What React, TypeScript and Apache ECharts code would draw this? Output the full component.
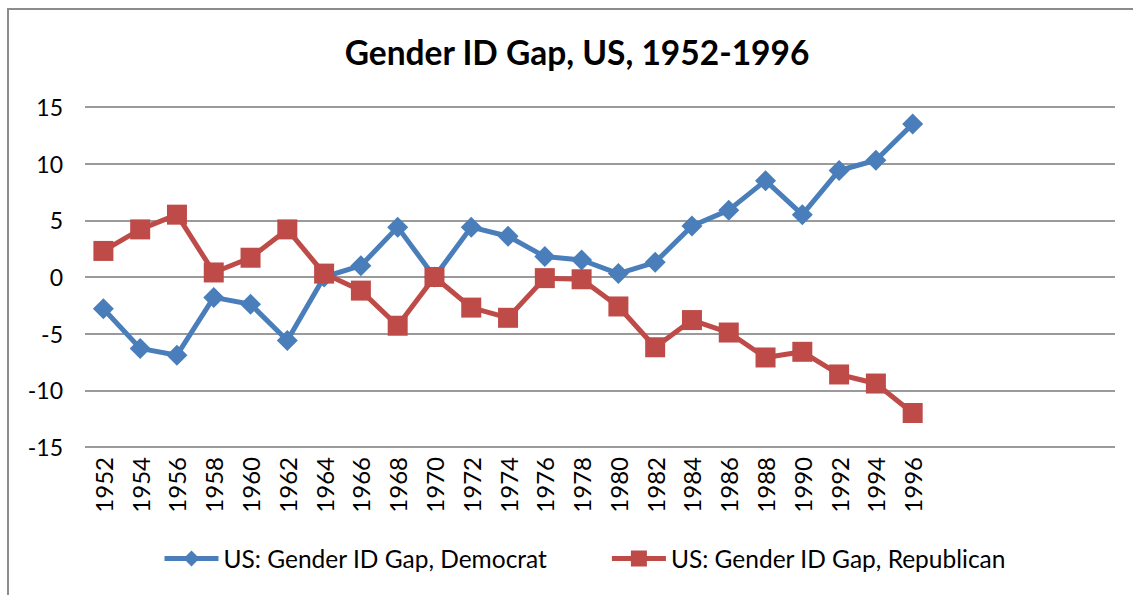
import React, { useEffect, useRef } from "react";
import * as echarts from "echarts";

const years = ["1952","1954","1956","1958","1960","1962","1964","1966","1968","1970","1972","1974","1976","1978","1980","1982","1984","1986","1988","1990","1992","1994","1996","","","","",""];
const democrat = [-2.8,-6.3,-6.9,-1.8,-2.4,-5.6,0.0,1.0,4.4,0.0,4.4,3.6,1.8,1.5,0.3,1.3,4.5,5.9,8.5,5.5,9.4,10.3,13.5];
const republican = [2.3,4.2,5.5,0.4,1.7,4.2,0.3,-1.2,-4.3,0.0,-2.7,-3.6,-0.1,-0.2,-2.6,-6.2,-3.8,-4.9,-7.1,-6.6,-8.6,-9.4,-12.0];
const yTicks = { min: -15, max: 15, interval: 5 };
const titleText = "Gender ID Gap, US, 1952-1996";
const demName = "US: Gender ID Gap, Democrat";
const repName = "US: Gender ID Gap, Republican";

const FONT = "Lato, 'Liberation Sans', sans-serif";

export default function App() {
  const ref = useRef<HTMLDivElement>(null);
  useEffect(() => {
    if (!ref.current) return;
    const chart = echarts.init(ref.current, undefined, { renderer: "svg" });
    chart.setOption({
      animation: false,
      backgroundColor: "#ffffff",
      textStyle: { fontFamily: FONT },
      title: {
        text: titleText,
        left: 572,
        textAlign: "center",
        top: 30,
        textStyle: { fontFamily: FONT, fontWeight: "bold", fontSize: 33.5, color: "#000" },
      },
      graphic: [
        {
          type: "rect",
          shape: { x: 8, y: 9, width: 1400, height: 900 },
          style: { fill: "none", stroke: "#8c8c8c", lineWidth: 2 },
          silent: true,
        },
      ],
      legend: {
        left: 157,
        top: 541,
        itemWidth: 54,
        itemHeight: 20,
        itemGap: 62,
        lineStyle: { width: 5 },
        textStyle: { fontFamily: FONT, fontSize: 24.5, color: "#000" },
        data: [demName, repName],
      },
      grid: { left: 85, right: 18, top: 107, bottom: 148, containLabel: false },
      xAxis: {
        type: "category",
        data: years,
        boundaryGap: true,
        axisLine: { show: false },
        axisTick: { show: false },
        splitLine: { show: false },
        axisLabel: {
          interval: 0,
          rotate: 90,
          margin: 10,
          fontFamily: FONT,
          fontSize: 24,
          color: "#000",
        },
      },
      yAxis: {
        type: "value",
        min: yTicks.min,
        max: yTicks.max,
        interval: yTicks.interval,
        axisLine: { show: false },
        axisTick: { show: false },
        axisLabel: { margin: 22, fontFamily: FONT, fontSize: 23, color: "#000" },
        splitLine: { lineStyle: { color: "#9a9a9a", width: 2 } },
      },
      series: [
        {
          name: demName,
          type: "line",
          data: democrat,
          symbol: "diamond",
          symbolSize: 21,
          color: "#4a7ebb",
          lineStyle: { width: 5, color: "#4a7ebb" },
          itemStyle: { color: "#4a7ebb" },
        },
        {
          name: repName,
          type: "line",
          data: republican,
          symbol: "rect",
          symbolSize: 20,
          color: "#be4b48",
          lineStyle: { width: 5, color: "#be4b48" },
          itemStyle: { color: "#be4b48" },
        },
      ],
    });
    return () => chart.dispose();
  }, []);
  return (
    <div
      ref={ref}
      style={{ position: "absolute", left: 0, top: 0, width: 1133, height: 595 }}
    />
  );
}
